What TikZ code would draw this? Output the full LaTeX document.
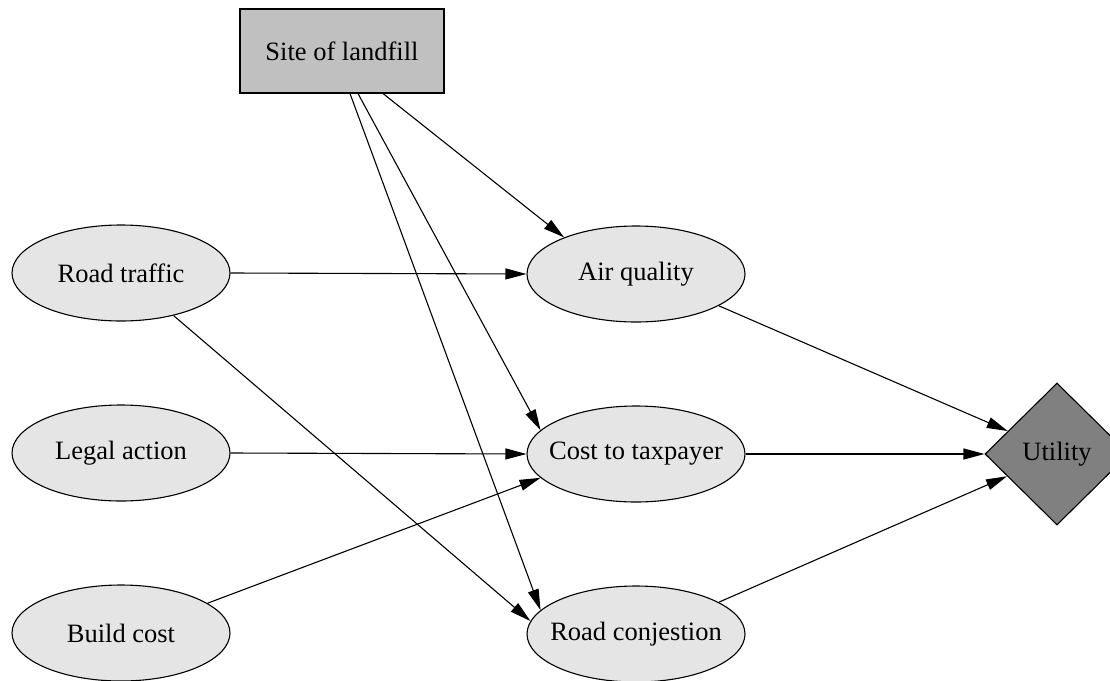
\documentclass[tikz,border=0pt]{standalone}
\usepackage{fontspec}
\setmainfont{Liberation Serif}
\usetikzlibrary{shapes.geometric,arrows.meta}
\definecolor{ellfill}{HTML}{E5E5E5}
\definecolor{sitefill}{HTML}{C0C0C0}
\definecolor{utilfill}{HTML}{808080}
\newcommand{\zw}[1]{\makebox[0pt]{#1}}
\tikzset{
  chance/.style={ellipse,draw=black,fill=ellfill,line width=1.1pt,minimum width=218pt,minimum height=96pt,inner sep=0pt,font=\fontsize{26.5}{30}\selectfont},
  decision/.style={rectangle,draw=black,fill=sitefill,line width=1.1pt,minimum width=204pt,minimum height=84pt,inner sep=0pt,font=\fontsize{26.5}{30}\selectfont},
  utilnode/.style={diamond,draw=black,fill=utilfill,line width=1.1pt,minimum width=144pt,minimum height=142pt,inner sep=0pt,font=\fontsize{26.5}{30}\selectfont},
  link/.style={line width=1.1pt,-{Triangle[length=21pt,width=11pt]}}
}
\begin{document}
\begin{tikzpicture}[x=1pt,y=-1pt]
\clip (0,0) rectangle (1110,680);
\fill[white] (0,0) rectangle (1110,680);
\node[decision] (site) at (342,51) {\zw{Site of landfill}};
\node[chance] (rt) at (121,273) {\zw{Road traffic}};
\node[chance] (la) at (121,453) {\zw{Legal action}};
\node[chance] (bc) at (121,633) {\zw{Build cost}};
\node[chance] (aq) at (636,274) {\zw{Air quality}};
\node[chance] (ct) at (636,454) {\zw{Cost to taxpayer}};
\node[chance] (rc) at (636,634) {\zw{Road conjestion}};
\node[utilnode] (ut) at (1057,454) {\zw{Utility}};
\draw[link] ([xshift=41pt]site.south) -- (aq.153.75);
\draw[link] ([xshift=16pt]site.south) -- (ct.166);
\draw[link] ([xshift=8pt]site.south) -- (rc.166);
\draw[link] (rt.east) -- (aq.west);
\draw[link] (rt.-39.5) -- (rc.173.5);
\draw[link] (la.east) -- (ct.west);
\draw[link] (bc.19.65) -- (ct.194);
\draw[link] (aq.-21.8) -- (ut.155.4);
\draw[link] (ct.east) -- (ut.west);
\draw[link] (rc.21.8) -- (ut.204.6);
\end{tikzpicture}
\end{document}
